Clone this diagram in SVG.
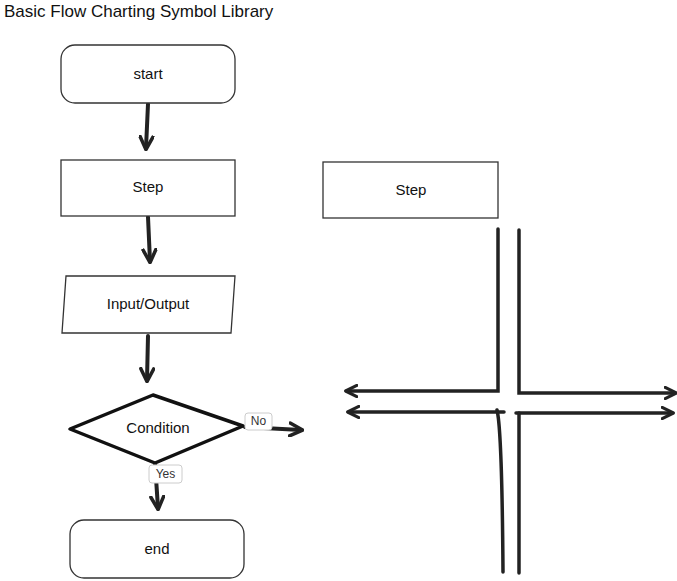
<svg xmlns="http://www.w3.org/2000/svg" width="677" height="581" viewBox="0 0 677 581">
<defs>
<style>
.node{fill:#fff;stroke:#333;stroke-width:1.3}
.dia{fill:#fff;stroke:#111;stroke-width:3.5;stroke-linejoin:round}
.t{font-family:"Liberation Sans",Arial,sans-serif;font-size:15px;fill:#111;text-anchor:middle;dominant-baseline:central}
.lbl{fill:#fff;stroke:#ccc;stroke-width:1}
.lt{font-family:"Liberation Sans",Arial,sans-serif;font-size:12px;fill:#333;text-anchor:middle;dominant-baseline:central}
.c{fill:none;stroke:#222;stroke-width:4;stroke-linecap:round}
.x{fill:none;stroke:#222;stroke-width:3.5;stroke-linecap:round}
</style>
<marker id="ah" viewBox="0 0 10 10" refX="8" refY="5" markerWidth="4" markerHeight="4" orient="auto" markerUnits="strokeWidth">
<path d="M1,1 L9,5 L1,9" fill="none" stroke="#222" stroke-width="2.2" stroke-linecap="round" stroke-linejoin="round"/>
</marker>
</defs>
<rect width="677" height="581" fill="#fff"/>
<text x="4" y="17" style="font-family:'Liberation Sans',Arial,sans-serif;font-size:17px;fill:#111">Basic Flow Charting Symbol Library</text>

<g id="connectors">
<path class="c" d="M148,104 L146,148" marker-end="url(#ah)"/>
<path class="c" d="M148,217 L150,261" marker-end="url(#ah)"/>
<path class="c" d="M148,336 L147,380" marker-end="url(#ah)"/>
<path class="c" d="M245,427 L301,430" marker-end="url(#ah)"/>
<path class="c" d="M155,463 L158,508" marker-end="url(#ah)"/>
<path class="x" d="M498,229 L498,391 L347,391" marker-end="url(#ah)"/>
<path class="x" d="M519,230 L519,393 L675,393" marker-end="url(#ah)"/>
<path class="x" d="M504,412 L349,412" marker-end="url(#ah)"/>
<path class="x" d="M497,410 Q502,430 503,572"/>
<path class="x" d="M516,413 L672,413" marker-end="url(#ah)"/>
<path class="x" d="M519,413 L519,573"/>
</g>

<g id="start">
<rect class="node" x="61" y="45" width="174" height="58" rx="14"/>
<text class="t" x="148" y="73">start</text>
</g>
<g id="step1">
<rect class="node" x="61" y="160" width="174" height="56"/>
<text class="t" x="148" y="186">Step</text>
</g>
<g id="io">
<path class="node" d="M66,276 L235,276 L231,333 L62,333 Z"/>
<text class="t" x="148" y="303">Input/Output</text>
</g>
<g id="condition">
<path class="dia" d="M70,429 L153,395 L243,426 L155,463 Z"/>
<text class="t" x="158" y="427">Condition</text>
</g>
<g id="label-no">
<rect class="lbl" x="245" y="413" width="27" height="17" rx="3"/>
<text class="lt" x="258.5" y="421">No</text>
</g>
<g id="label-yes">
<rect class="lbl" x="149" y="465" width="33" height="18" rx="3"/>
<text class="lt" x="165.5" y="473.5">Yes</text>
</g>
<g id="end">
<rect class="node" x="70" y="520" width="174" height="58" rx="14"/>
<text class="t" x="157" y="548">end</text>
</g>
<g id="step2">
<rect class="node" x="323" y="162" width="175" height="56"/>
<text class="t" x="411" y="189">Step</text>
</g>
</svg>
